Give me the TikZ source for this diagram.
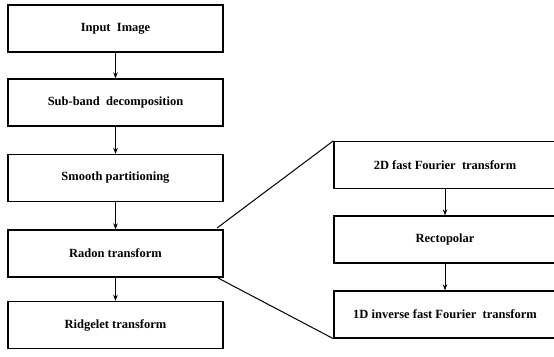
\documentclass[tikz,border=0pt]{standalone}
\usepackage{fontspec}
\setmainfont{Liberation Serif}
\usetikzlibrary{arrows.meta}
\begin{document}
\begin{tikzpicture}[x=1pt,y=-1pt,
  box/.style={draw,line width=1.3pt,minimum width=215pt,minimum height=47pt,inner sep=0pt,font=\fontsize{12.5}{14}\selectfont\bfseries},
  rbox/.style={box,minimum width=222pt},
  arr/.style={line width=1pt,-{Stealth[length=6pt,width=4.5pt]}},
  lnk/.style={line width=1pt}]
\useasboundingbox (0,0) rectangle (554,356);
\node[box] (in) at (115.5,28.5) {Input\ \ Image};
\node[box] (sb) at (115.5,102.5) {Sub-band\ \ decomposition};
\node[box] (sp) at (115.5,178) {Smooth partitioning};
\node[box] (rt) at (115.5,253.5) {Radon transform};
\node[box] (rg) at (115.5,325) {Ridgelet transform};
\node[rbox] (ff) at (445,165) {2D fast Fourier\ \ transform};
\node[rbox] (rp) at (445,239.5) {Rectopolar};
\node[rbox] (iff) at (445,314.5) {1D inverse fast Fourier\ \ transform};
\draw[arr] (in) -- (sb);
\draw[arr] (sb) -- (sp);
\draw[arr] (sp) -- (rt);
\draw[arr] (rt) -- (rg);
\draw[arr] (ff) -- (rp);
\draw[arr] (rp) -- (iff);
\coordinate (a1) at (217,228);
\coordinate (a2) at (218,278);
\draw[lnk] (a1) -- (ff.north west);
\draw[lnk] (a2) -- (iff.south west);
\end{tikzpicture}
\end{document}
